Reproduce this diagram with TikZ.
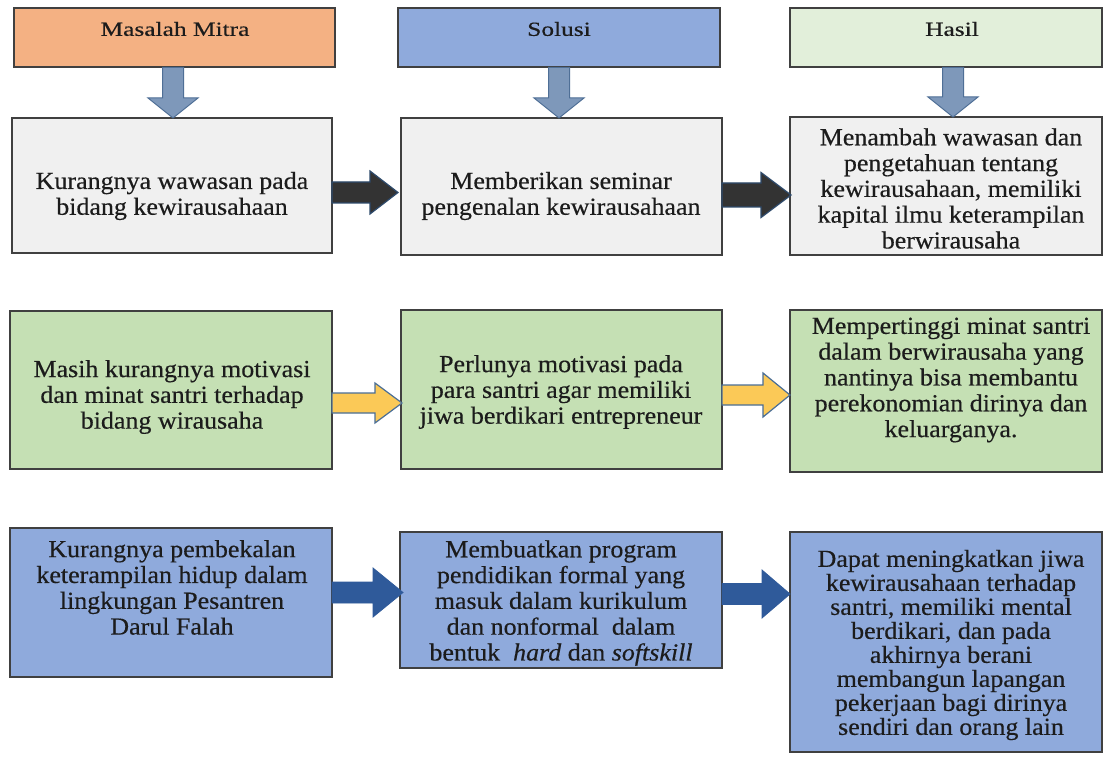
\documentclass[tikz,border=0pt]{standalone}
\usepackage{fontspec}
\usetikzlibrary{calc}
\newfontfamily\bodyfont{Liberation Serif}[FakeStretch=1.06,FakeBold=0.4]
\newfontfamily\headfont{Liberation Serif}[FakeStretch=1.27,FakeBold=0.4]
\definecolor{cOrange}{HTML}{F4B183}
\definecolor{cBlue}{HTML}{8FAADC}
\definecolor{cLgreen}{HTML}{E2EFDA}
\definecolor{cGray}{HTML}{F0F0F0}
\definecolor{cGreen}{HTML}{C5E0B4}
\definecolor{cEdge}{HTML}{404040}
\definecolor{cText}{HTML}{1C1C1C}
\definecolor{cDown}{HTML}{7E98BA}
\definecolor{cDownEdge}{HTML}{4F6F96}
\definecolor{cBlack}{HTML}{333333}
\definecolor{cBlackEdge}{HTML}{2E4A6B}
\definecolor{cYellow}{HTML}{FBC957}
\definecolor{cYellowEdge}{HTML}{4A6E96}
\definecolor{cDarkBlue}{HTML}{2F5A9A}
\newcommand\varrowdraw[3]{%
  \draw[#3] ($(#1)+(-10.5,0)$) -- ($(#2)+(-10.5,-20)$) -- ($(#2)+(-25,-20)$) -- (#2)
    -- ($(#2)+(25,-20)$) -- ($(#2)+(10.5,-20)$) -- ($(#1)+(10.5,0)$) -- cycle;}
\newcommand\harrowdraw[6]{%
  \draw[#6] ($(#1)+(0,-#3)$) -- ($(#2)+(-#5,-#3)$) -- ($(#2)+(-#5,-#4)$) -- (#2)
    -- ($(#2)+(-#5,#4)$) -- ($(#2)+(-#5,#3)$) -- ($(#1)+(0,#3)$) -- cycle;}
\begin{document}
\begin{tikzpicture}[x=1pt,y=-1pt,
  boxs/.style={draw=cEdge, line width=1.4pt, rectangle, inner sep=0pt, outer sep=0pt},
  headtxt/.style={text=cText, font=\headfont\fontsize{20}{22}\selectfont, inner sep=0pt},
  bodytxt/.style={text=cText, align=center, font=\bodyfont\fontsize{24.5}{25.8}\selectfont, inner sep=0pt},
  downarr/.style={fill=cDown, draw=cDownEdge, line width=1pt, line join=miter},
  blackarr/.style={fill=cBlack, draw=cBlackEdge, line width=1.2pt},
  yellowarr/.style={fill=cYellow, draw=cYellowEdge, line width=1.2pt},
  bluearr/.style={fill=cDarkBlue, draw=cDarkBlue, line width=0.8pt}]
\useasboundingbox[fill=white] (0,0) rectangle (1104,762);
% headers
\node[boxs, fill=cOrange, minimum width=321pt, minimum height=59pt] (h1) at (174.5,37.5) {};
\node[boxs, fill=cBlue, minimum width=322pt, minimum height=59pt] (h2) at (559,37.5) {};
\node[boxs, fill=cLgreen, minimum width=312pt, minimum height=59pt] (h3) at (946,37.5) {};
\node[headtxt] (h1t) at (175,29) {Masalah Mitra};
\node[headtxt] (h2t) at (559,29) {Solusi};
\node[headtxt] (h3t) at (952,29) {Hasil};
% row 1
\node[boxs, fill=cGray, minimum width=320pt, minimum height=135pt] (r1a) at (172,185.5) {};
\node[boxs, fill=cGray, minimum width=321pt, minimum height=137pt] (r1b) at (561.5,186.5) {};
\node[boxs, fill=cGray, minimum width=312pt, minimum height=138pt] (r1c) at (946,186) {};
% row 2
\node[boxs, fill=cGreen, minimum width=322pt, minimum height=158pt] (r2a) at (171,390) {};
\node[boxs, fill=cGreen, minimum width=321pt, minimum height=159pt] (r2b) at (561.5,389.5) {};
\node[boxs, fill=cGreen, minimum width=312pt, minimum height=162pt] (r2c) at (946,391) {};
% row 3
\node[boxs, fill=cBlue, minimum width=322pt, minimum height=149pt] (r3a) at (171,602.5) {};
\node[boxs, fill=cBlue, minimum width=322pt, minimum height=136pt] (r3b) at (561,600) {};
\node[boxs, fill=cBlue, minimum width=312pt, minimum height=220pt] (r3c) at (946,642) {};
% texts
\node[bodytxt] (t1a) at (172,196) {Kurangnya wawasan pada\\bidang kewirausahaan};
\node[bodytxt] (t1b) at (561,196) {Memberikan seminar\\pengenalan kewirausahaan};
\node[bodytxt] (t1c) at (951,188.5) {Menambah wawasan dan\\pengetahuan tentang\\kewirausahaan, memiliki\\kapital ilmu keterampilan\\berwirausaha};
\node[bodytxt] (t2a) at (172,397) {Masih kurangnya motivasi\\dan minat santri terhadap\\bidang wirausaha};
\node[bodytxt] (t2b) at (561,392) {Perlunya motivasi pada\\para santri agar memiliki\\jiwa berdikari entrepreneur};
\node[bodytxt] (t2c) at (951,380) {Mempertinggi minat santri\\dalam berwirausaha yang\\nantinya bisa membantu\\perekonomian dirinya dan\\keluarganya.};
\node[bodytxt] (t3a) at (172,587.5) {Kurangnya pembekalan\\keterampilan hidup dalam\\lingkungan Pesantren\\Darul Falah};
\node[bodytxt] (t3b) at (561,603) {Membuatkan program\\pendidikan formal yang\\masuk dalam kurikulum\\dan nonformal\ \ dalam\\bentuk\ \ \textit{hard} dan \textit{softskill}};
\node[bodytxt, font=\bodyfont\fontsize{24.5}{24}\selectfont] (t3c) at (951,645) {Dapat meningkatkan jiwa\\kewirausahaan terhadap\\santri, memiliki mental\\berdikari, dan pada\\akhirnya berani\\membangun lapangan\\pekerjaan bagi dirinya\\sendiri dan orang lain};
% down arrows
\coordinate (d1s) at ($(h1.south)+(-1.5,0.5)$);
\coordinate (d1e) at (d1s |- r1a.north);
\coordinate (d2s) at ($(h2.south)+(0,0.5)$);
\coordinate (d2e) at (d2s |- r1b.north);
\coordinate (d3s) at ($(h3.south)+(7,0.5)$);
\coordinate (d3e) at (d3s |- r1c.north);
\varrowdraw{d1s}{d1e}{downarr}
\varrowdraw{d2s}{d2e}{downarr}
\varrowdraw{d3s}{d3e}{downarr}
% row 1 arrows
\coordinate (a1s) at ($(r1a.east)+(0,7)$);
\coordinate (a1e) at ($(r1b.west)+(-3,6)$);
\coordinate (a2s) at ($(r1b.east)+(0,8.5)$);
\coordinate (a2e) at ($(r1c.west)+(1,9)$);
\harrowdraw{a1s}{a1e}{10.5}{21.5}{28}{blackarr}
\harrowdraw{a2s}{a2e}{12}{22.5}{30}{blackarr}
% row 2 arrows
\coordinate (y1s) at ($(r2a.east)+(0,13)$);
\coordinate (y1e) at ($(r2b.west)+(1,13.5)$);
\coordinate (y2s) at ($(r2b.east)+(0,5.5)$);
\coordinate (y2e) at ($(r2c.west)+(0,4)$);
\harrowdraw{y1s}{y1e}{10}{20}{27}{yellowarr}
\harrowdraw{y2s}{y2e}{10}{22}{27}{yellowarr}
% row 3 arrows
\coordinate (b1s) at ($(r3a.east)+(0,-10)$);
\coordinate (b1e) at ($(r3b.west)+(3,-7.5)$);
\coordinate (b2s) at ($(r3b.east)+(0,-6)$);
\coordinate (b2e) at ($(r3c.west)+(0,-48)$);
\harrowdraw{b1s}{b1e}{10.5}{24.5}{30}{bluearr}
\harrowdraw{b2s}{b2e}{10.5}{24}{28}{bluearr}
\end{tikzpicture}
\end{document}
